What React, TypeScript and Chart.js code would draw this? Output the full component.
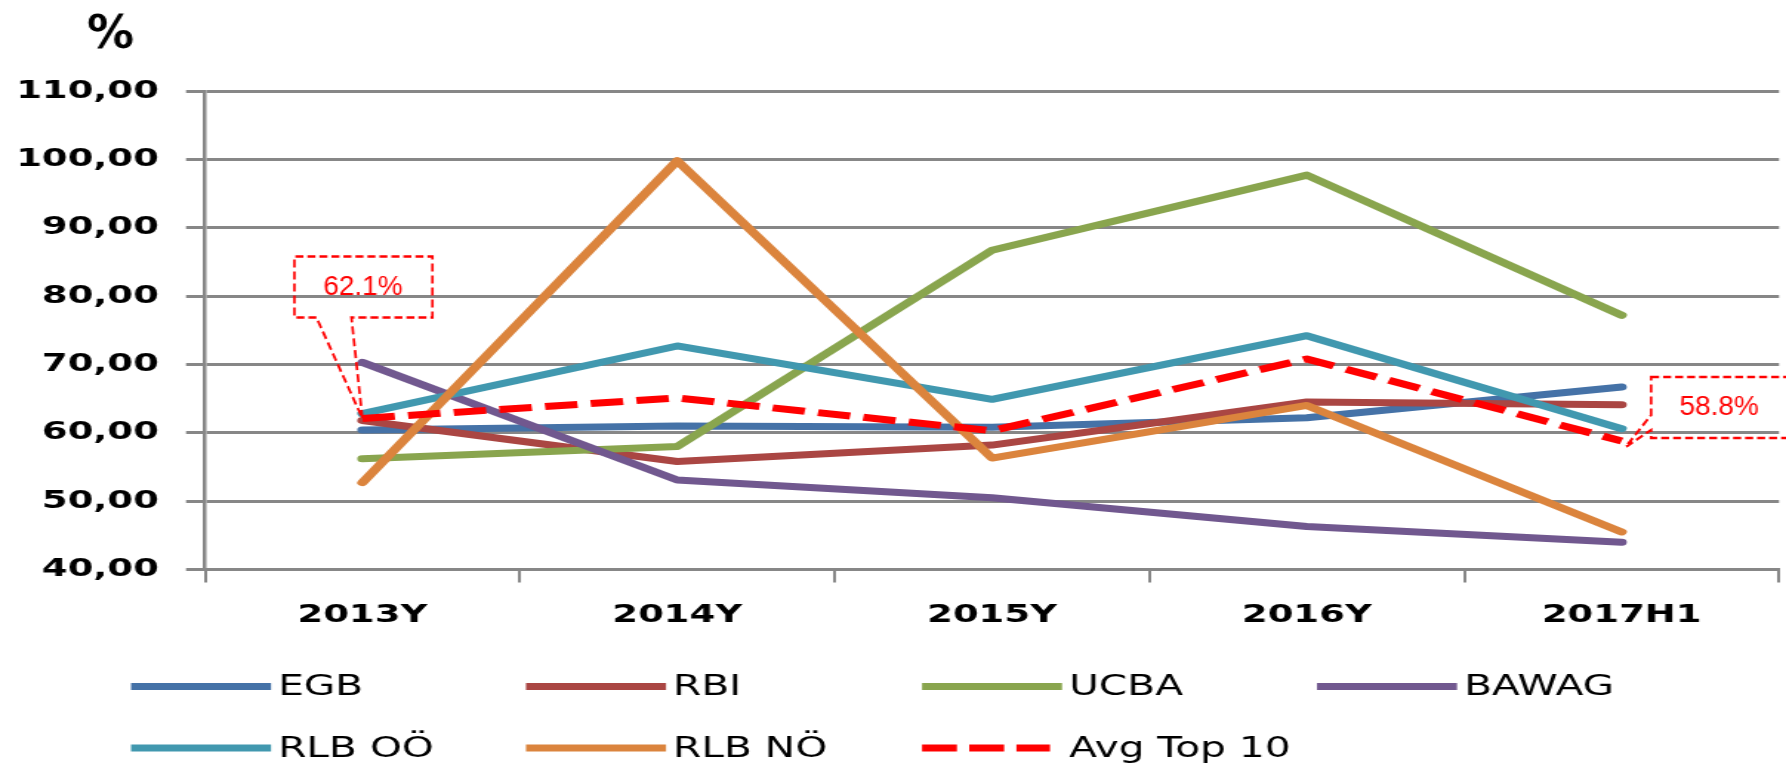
import React, { useEffect, useRef } from "react";
import { Chart, registerables } from "chart.js";

Chart.register(...registerables);

// ---------- data ----------
const CATEGORIES = ["2013Y", "2014Y", "2015Y", "2016Y", "2017H1"];
const EGB = [60.4, 61.0, 60.8, 62.2, 66.7];
const RBI = [61.8, 55.8, 58.2, 64.5, 64.1];
const UCBA = [56.2, 58.0, 86.7, 97.7, 77.2];
const BAWAG = [70.3, 53.1, 50.5, 46.3, 44.0];
const RLB_OOE = [62.8, 72.7, 64.9, 74.2, 60.6];
const RLB_NOE = [52.7, 99.8, 56.3, 64.0, 45.5];
const AVG_TOP10 = [62.1, 65.1, 60.3, 70.8, 58.8];

const SERIES_NAMES = ["EGB", "RBI", "UCBA", "BAWAG", "RLB OÖ", "RLB NÖ", "Avg Top 10"];
const SERIES_VALUES = [EGB, RBI, UCBA, BAWAG, RLB_OOE, RLB_NOE, AVG_TOP10];
const SERIES_COLORS = ["#4572A7", "#AA4643", "#89A54E", "#71588F", "#4198AF", "#DB843D", "#FF0000"];

const Y_MIN = 40;
const Y_MAX = 110;
const Y_STEP = 10;
const Y_UNIT = "%";
const CALLOUT_POINTS = [0, 4]; // indexes of Avg Top 10 values that carry a callout

// ---------- layout (canvas is drawn narrow and stretched horizontally, like the reference) ----------
const VIEW_W = 1786;
const VIEW_H = 765;
const CANVAS_W = 1207;
const K = VIEW_W / CANVAS_W;

const PLOT_LEFT_FULL = 205;
const PLOT_RIGHT_FULL = 1779;
const PLOT_TOP = 91;
const PLOT_BOTTOM = 569.5;
const X_AXIS_H = 80;

const GRID = "#878787";

const overlayPlugin = {
  id: "overlay",
  afterDatasetsDraw(chart: any) {
    const ctx: CanvasRenderingContext2D = chart.ctx;
    const meta = chart.getDatasetMeta(SERIES_NAMES.length - 1);
    ctx.save();
    ctx.scale(1 / K, 1);
    ctx.strokeStyle = "#FF0000";
    ctx.fillStyle = "#FF0000";
    ctx.lineWidth = 2.5;
    ctx.setLineDash([8, 4]);
    ctx.font = '28px "Liberation Sans", Arial, sans-serif';
    ctx.textAlign = "center";
    ctx.textBaseline = "middle";
    CALLOUT_POINTS.forEach((idx, n) => {
      const el = meta.data[idx];
      if (!el) return;
      const px = el.x * K;
      const py = el.y;
      const label = AVG_TOP10[idx].toFixed(1) + "%";
      ctx.beginPath();
      if (n === 0) {
        const l = px - 68, r = px + 70, t = py - 162, b = py - 101;
        ctx.moveTo(px - 46, b);
        ctx.lineTo(l, b);
        ctx.lineTo(l, t);
        ctx.lineTo(r, t);
        ctx.lineTo(r, b);
        ctx.lineTo(px - 11, b);
        ctx.lineTo(px, py);
        ctx.closePath();
        ctx.stroke();
        ctx.fillText(label, px + 0.5, py - 131);
      } else {
        const l = px + 29.5, r = px + 260, t = py - 64, b = py - 3;
        const ax = px + 4, ay = py + 6;
        ctx.moveTo(l, t);
        ctx.lineTo(r, t);
        ctx.lineTo(r, b);
        ctx.lineTo(l, b);
        ctx.lineTo(l, py - 11);
        ctx.lineTo(ax, ay);
        ctx.lineTo(l, py - 26);
        ctx.closePath();
        ctx.stroke();
        ctx.fillText(label, px + 97.5, py - 33.5);
      }
    });
    ctx.restore();
  },
  afterDraw(chart: any) {
    const ctx: CanvasRenderingContext2D = chart.ctx;
    // unit label
    ctx.save();
    ctx.scale(1 / K, 1);
    ctx.fillStyle = "#000";
    ctx.font = 'bold 47px "DejaVu Sans", sans-serif';
    ctx.textAlign = "center";
    ctx.textBaseline = "alphabetic";
    ctx.fillText(Y_UNIT, 110.5, 47.5);
    ctx.restore();

    // legend (grid of 4 columns)
    const colsFull = [131, 526, 922, 1317];
    const rowLineY = [686.5, 748];
    const rowTextY = [687.5, 749.5];
    ctx.save();
    ctx.font = '27.5px "DejaVu Sans", sans-serif';
    ctx.textAlign = "left";
    ctx.textBaseline = "middle";
    chart.data.datasets.forEach((ds: any, i: number) => {
      const col = i % 4;
      const row = Math.floor(i / 4);
      const x0 = colsFull[col] / K;
      const dashed = Array.isArray(ds.borderDash) && ds.borderDash.length > 0;
      const len = (dashed ? 128 : 140) / K;
      ctx.beginPath();
      ctx.strokeStyle = ds.borderColor;
      ctx.lineWidth = 7;
      ctx.lineCap = "butt";
      ctx.setLineDash(dashed ? [23.6, 8.3] : []);
      ctx.moveTo(x0, rowLineY[row]);
      ctx.lineTo(x0 + len, rowLineY[row]);
      ctx.stroke();
      ctx.setLineDash([]);
      ctx.fillStyle = "#000";
      ctx.fillText(ds.label, x0 + 147 / K, rowTextY[row]);
    });
    ctx.restore();
  },
};

export default function App() {
  const ref = useRef<HTMLCanvasElement | null>(null);

  useEffect(() => {
    if (!ref.current) return;
    const n = SERIES_NAMES.length;
    const datasets = SERIES_NAMES.map((name, i) => {
      const isAvg = i === n - 1;
      return {
        label: name,
        data: SERIES_VALUES[i],
        borderColor: SERIES_COLORS[i],
        backgroundColor: SERIES_COLORS[i],
        borderWidth: 7,
        borderDash: isAvg ? [22, 9] : [],
        borderCapStyle: isAvg ? "butt" : "round",
        borderJoinStyle: "round",
        pointRadius: 0,
        pointHoverRadius: 0,
        tension: 0,
        fill: false,
        order: n - 1 - i,
      };
    });

    const chart = new Chart(ref.current, {
      type: "line",
      data: { labels: CATEGORIES, datasets: datasets as any },
      options: {
        responsive: false,
        maintainAspectRatio: false,
        devicePixelRatio: 1,
        animation: false,
        events: [],
        layout: {
          padding: {
            left: 0,
            top: PLOT_TOP,
            right: CANVAS_W - PLOT_RIGHT_FULL / K,
            bottom: VIEW_H - PLOT_BOTTOM - X_AXIS_H,
          },
        },
        plugins: {
          legend: { display: false },
          tooltip: { enabled: false },
          title: { display: false },
        },
        scales: {
          x: {
            type: "category",
            offset: true,
            afterFit: (s: any) => {
              s.height = X_AXIS_H;
            },
            grid: {
              offset: true,
              drawOnChartArea: false,
              drawTicks: true,
              tickLength: 13,
              color: GRID,
              lineWidth: 2,
            },
            border: { display: true, color: GRID, width: 3 },
            ticks: {
              color: "#000",
              padding: 18,
              maxRotation: 0,
              autoSkip: false,
              font: { family: '"DejaVu Sans", sans-serif', size: 25, weight: "bold" },
            },
          },
          y: {
            type: "linear",
            min: Y_MIN,
            max: Y_MAX,
            afterFit: (s: any) => {
              s.width = PLOT_LEFT_FULL / K;
            },
            grid: {
              drawOnChartArea: true,
              drawTicks: true,
              tickLength: 19 / K,
              color: GRID,
              lineWidth: 3,
            },
            border: { display: true, color: GRID, width: 2.5 },
            ticks: {
              stepSize: Y_STEP,
              color: "#000",
              padding: 18.3,
              font: { family: '"DejaVu Sans", sans-serif', size: 25, weight: "bold" },
              callback: (v: any) => Number(v).toFixed(2).replace(".", ","),
            },
          },
        },
      },
      plugins: [overlayPlugin],
    } as any);

    return () => chart.destroy();
  }, []);

  return (
    <div
      style={{
        position: "fixed",
        left: 0,
        top: 0,
        width: VIEW_W,
        height: VIEW_H,
        overflow: "hidden",
        background: "#fff",
      }}
    >
      <canvas
        ref={ref}
        width={CANVAS_W}
        height={VIEW_H}
        style={{ width: VIEW_W + "px", height: VIEW_H + "px", display: "block" }}
      />
    </div>
  );
}
